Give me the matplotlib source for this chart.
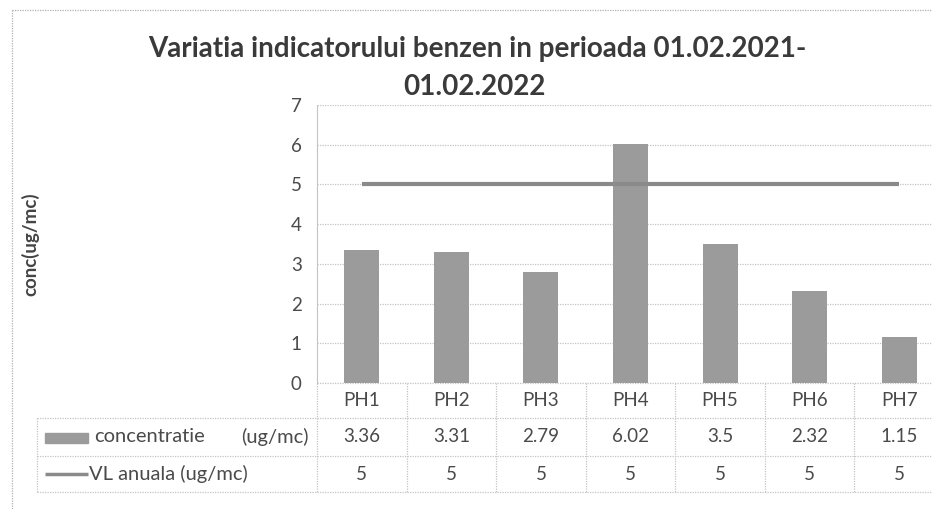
import matplotlib
matplotlib.use("Agg")
import matplotlib.pyplot as plt
import matplotlib.patches as mpatches
from matplotlib.lines import Line2D

# ─── Data ────────────────────────────────────────────────────────────────────
categories = ["PH1", "PH2", "PH3", "PH4", "PH5", "PH6", "PH7"]
concentratie = [3.36, 3.31, 2.79, 6.02, 3.5, 2.32, 1.15]
vl_anuala = [5, 5, 5, 5, 5, 5, 5]
y_ticks = [0, 1, 2, 3, 4, 5, 6, 7]

title_lines = ["Variatia indicatorului benzen in perioada 01.02.2021-",
               "01.02.2022"]
row_labels = ["concentratie", "(ug/mc)", "VL anuala (ug/mc)"]

# ─── Figure geometry (pixels) ────────────────────────────────────────────────
W, H = 932, 509
fig = plt.figure(figsize=(W / 100, H / 100), dpi=100)
plt.rcParams["font.family"] = ["Lato", "DejaVu Sans"]

def fx(px):
    return px / W

def fy(py):
    return 1 - py / H

plot_l, plot_r, plot_t, plot_b = 317, 944, 105, 383
ax = fig.add_axes([fx(plot_l), fy(plot_b), fx(plot_r - plot_l),
                   (plot_b - plot_t) / H])

bar_col = "#9b9b9b"
line_col = "#8a8a8a"
grid_col = "#c4c4c4"
text_col = "#4a4a4a"
fs = 13.5

x = range(len(categories))
ax.bar(x, concentratie, width=0.39, color=bar_col, zorder=3)
ax.plot(x, vl_anuala, color=line_col, linewidth=3, zorder=4,
        solid_capstyle="butt")

ax.set_xlim(-0.5, len(categories) - 0.5)
ax.set_ylim(0, 7)
ax.set_yticks(y_ticks)
ax.set_yticklabels([str(t) for t in y_ticks], fontsize=fs, color=text_col)
ax.set_xticks([])
ax.tick_params(axis="y", length=0, pad=11)
ax.yaxis.grid(True, color=grid_col, linestyle=(0, (1, 1)), linewidth=0.9,
              zorder=0)
for s in ["top", "right", "bottom"]:
    ax.spines[s].set_visible(False)
ax.spines["left"].set_color(grid_col)
ax.spines["left"].set_linestyle((0, (1, 1)))

# ─── Title and y label ───────────────────────────────────────────────────────
fig.text(fx(477), fy(49), title_lines[0], ha="center", va="center",
         fontsize=20, fontweight="bold", color="#3a3a3a")
fig.text(fx(474), fy(87), title_lines[1], ha="center", va="center",
         fontsize=20, fontweight="bold", color="#3a3a3a")
fig.text(fx(30), fy(244), "conc(ug/mc)", rotation=90, ha="center",
         va="center", fontsize=13.5, fontweight="bold", color="#444444")

# ─── Data table under the chart ──────────────────────────────────────────────
dot = (0, (1, 1))
row_y = [418, 456, 492]
tbl_left = 37
for yy in row_y:
    fig.add_artist(Line2D([fx(tbl_left), fx(plot_r)], [fy(yy), fy(yy)],
                          color=grid_col, linestyle=dot, linewidth=0.9))
fig.add_artist(Line2D([fx(plot_l), fx(plot_r)], [fy(plot_b), fy(plot_b)],
                      color=grid_col, linestyle=dot, linewidth=0.9))
fig.add_artist(Line2D([fx(tbl_left), fx(tbl_left)], [fy(418), fy(492)],
                      color=grid_col, linestyle=dot, linewidth=0.9))

cat_w = (plot_r - plot_l) / len(categories)
for i in range(len(categories) + 1):
    xx = plot_l + i * cat_w
    fig.add_artist(Line2D([fx(xx), fx(xx)], [fy(plot_b), fy(492)],
                          color=grid_col, linestyle=dot, linewidth=0.9))

for i, cat in enumerate(categories):
    cx = plot_l + (i + 0.5) * cat_w
    fig.text(fx(cx), fy(401), cat, ha="center", va="center", fontsize=fs,
             color=text_col)
    fig.text(fx(cx), fy(437), f"{concentratie[i]:g}", ha="center",
             va="center", fontsize=fs, color=text_col)
    fig.text(fx(cx), fy(474), f"{vl_anuala[i]:g}", ha="center",
             va="center", fontsize=fs, color=text_col)

# legend keys inside the table
fig.add_artist(mpatches.Rectangle((fx(45), fy(443)), fx(43), 10 / H,
                                  color=bar_col, transform=fig.transFigure))
fig.add_artist(Line2D([fx(45), fx(88)], [fy(474), fy(474)], color=line_col,
                      linewidth=2.5, solid_capstyle="butt"))
fig.text(fx(94), fy(437), row_labels[0], ha="left", va="center",
         fontsize=14.5, color=text_col)
fig.text(fx(309), fy(437), row_labels[1], ha="right", va="center",
         fontsize=14.5, color=text_col)
fig.text(fx(89), fy(474), row_labels[2], ha="left", va="center",
         fontsize=14.5, color=text_col)

# ─── Outer chart border (cut at the right and bottom) ────────────────────────
fig.add_artist(Line2D([fx(12), fx(12)], [fy(10), 0], color="#b0b0b0",
                      linestyle=dot, linewidth=0.9))
fig.add_artist(Line2D([fx(12), 1], [fy(10), fy(10)], color="#b0b0b0",
                      linestyle=dot, linewidth=0.9))

fig.savefig("out.png", dpi=100, facecolor="white")
